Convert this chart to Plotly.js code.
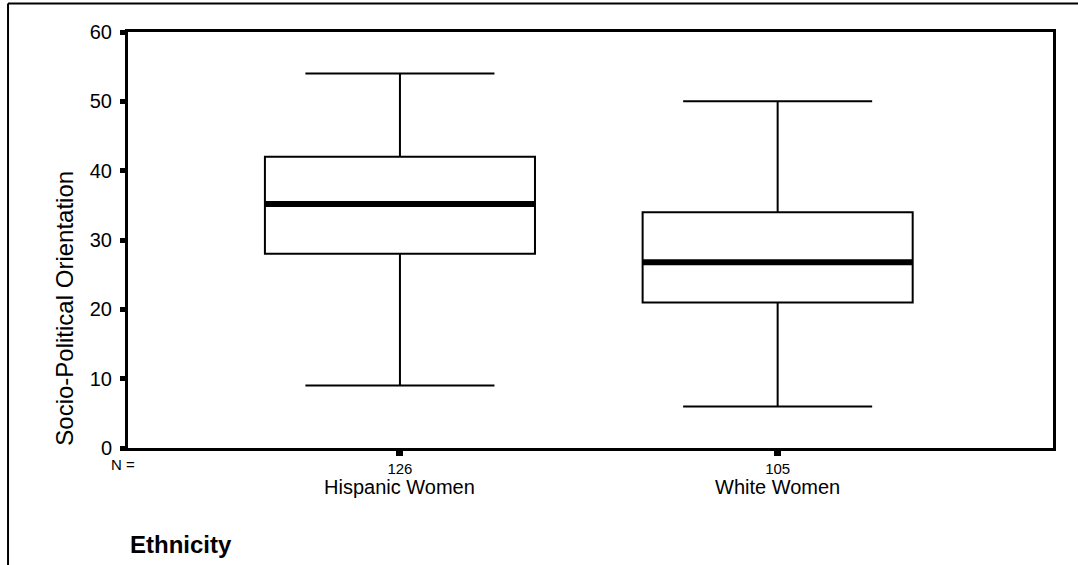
<!DOCTYPE html>
<html>
<head>
<meta charset="utf-8">
<script src="https://cdn.plot.ly/plotly-3.0.1.min.js"></script>
<style>
  html, body { margin: 0; padding: 0; background: #ffffff; }
  #chart { width: 1078px; height: 565px; }
</style>
</head>
<body>
<div id="chart"></div>
<script>
// Data
const groups      = ["Hispanic Women", "White Women"];
const nCounts     = ["126", "105"];
const positions   = [0, 1];
const lowerFence  = [9, 6];
const q1Values    = [28, 21];
const medians     = [35.2, 26.8];
const q3Values    = [42, 34];
const upperFence  = [54, 50];
const yTicks      = [0, 10, 20, 30, 40, 50, 60];

const FONT = "'Liberation Sans', Arial, Helvetica, sans-serif";
const boxWidth = 0.715;

const traces = [{
  type: "box",
  x: positions,
  q1: q1Values,
  median: medians,
  q3: q3Values,
  lowerfence: lowerFence,
  upperfence: upperFence,
  width: boxWidth,
  whiskerwidth: 0.7,
  fillcolor: "rgba(255,255,255,0)",
  line: { color: "#000000", width: 2 },
  boxpoints: false,
  hoverinfo: "skip",
  showlegend: false
}];

// thick median bars
positions.forEach(function (p, i) {
  traces.push({
    type: "scatter",
    mode: "lines",
    x: [p - boxWidth / 2, p + boxWidth / 2],
    y: [medians[i], medians[i]],
    line: { color: "#000000", width: 6 },
    hoverinfo: "skip",
    showlegend: false
  });
});

const annotations = groups.map(function (g, i) {
  return {
    text: g, x: positions[i], xref: "x",
    y: -0.094, yref: "paper", yanchor: "middle", xanchor: "center",
    showarrow: false, font: { family: FONT, size: 20, color: "#000000" }
  };
});
annotations.push({
  text: "N =", x: -0.005, xref: "paper", y: -0.04, yref: "paper",
  xanchor: "center", yanchor: "middle", showarrow: false,
  font: { family: FONT, size: 15, color: "#000000" }
});
annotations.push({
  text: "Ethnicity", x: 0.0, xref: "paper", y: -0.233, yref: "paper",
  xanchor: "left", yanchor: "middle", showarrow: false,
  font: { family: FONT, size: 24, color: "#000000", weight: "bold" }
});
annotations.push({
  text: "Socio-Political Orientation", textangle: -90,
  x: -0.069, xref: "paper", y: 0.0, yref: "paper",
  xanchor: "center", yanchor: "bottom", showarrow: false,
  font: { family: FONT, size: 24, color: "#000000" }
});

const layout = {
  width: 1078, height: 565,
  margin: { l: 128, r: 25, t: 32, b: 117 },
  paper_bgcolor: "#ffffff", plot_bgcolor: "#ffffff",
  font: { family: FONT, color: "#000000" },
  showlegend: false,
  xaxis: {
    range: [-0.72, 1.729],
    tickmode: "array", tickvals: positions, ticktext: nCounts,
    ticks: "outside", ticklen: 5, tickwidth: 7, tickcolor: "#000000",
    tickfont: { family: FONT, size: 15, color: "#000000" },
    showline: true, linecolor: "#000000", linewidth: 3, mirror: true,
    showgrid: false, zeroline: false, fixedrange: true
  },
  yaxis: {
    range: [0, 60],
    tickmode: "array", tickvals: yTicks,
    ticks: "outside", ticklen: 5, tickwidth: 5, tickcolor: "#000000",
    ticklabelstandoff: 4,
    tickfont: { family: FONT, size: 20, color: "#000000" },
    showline: true, linecolor: "#000000", linewidth: 3, mirror: true,
    showgrid: false, zeroline: false, fixedrange: true
  },
  annotations: annotations,
  shapes: [
    { type: "line", xref: "paper", yref: "paper",
      x0: -0.1297, x1: 1.03, y0: 1.0686, y1: 1.0686,
      line: { color: "#000000", width: 2 } },
    { type: "line", xref: "paper", yref: "paper",
      x0: -0.1297, x1: -0.1297, y0: 1.0686, y1: -0.29,
      line: { color: "#000000", width: 2 } }
  ]
};

Plotly.newPlot("chart", traces, layout, { displayModeBar: false, staticPlot: true });
</script>
</body>
</html>
